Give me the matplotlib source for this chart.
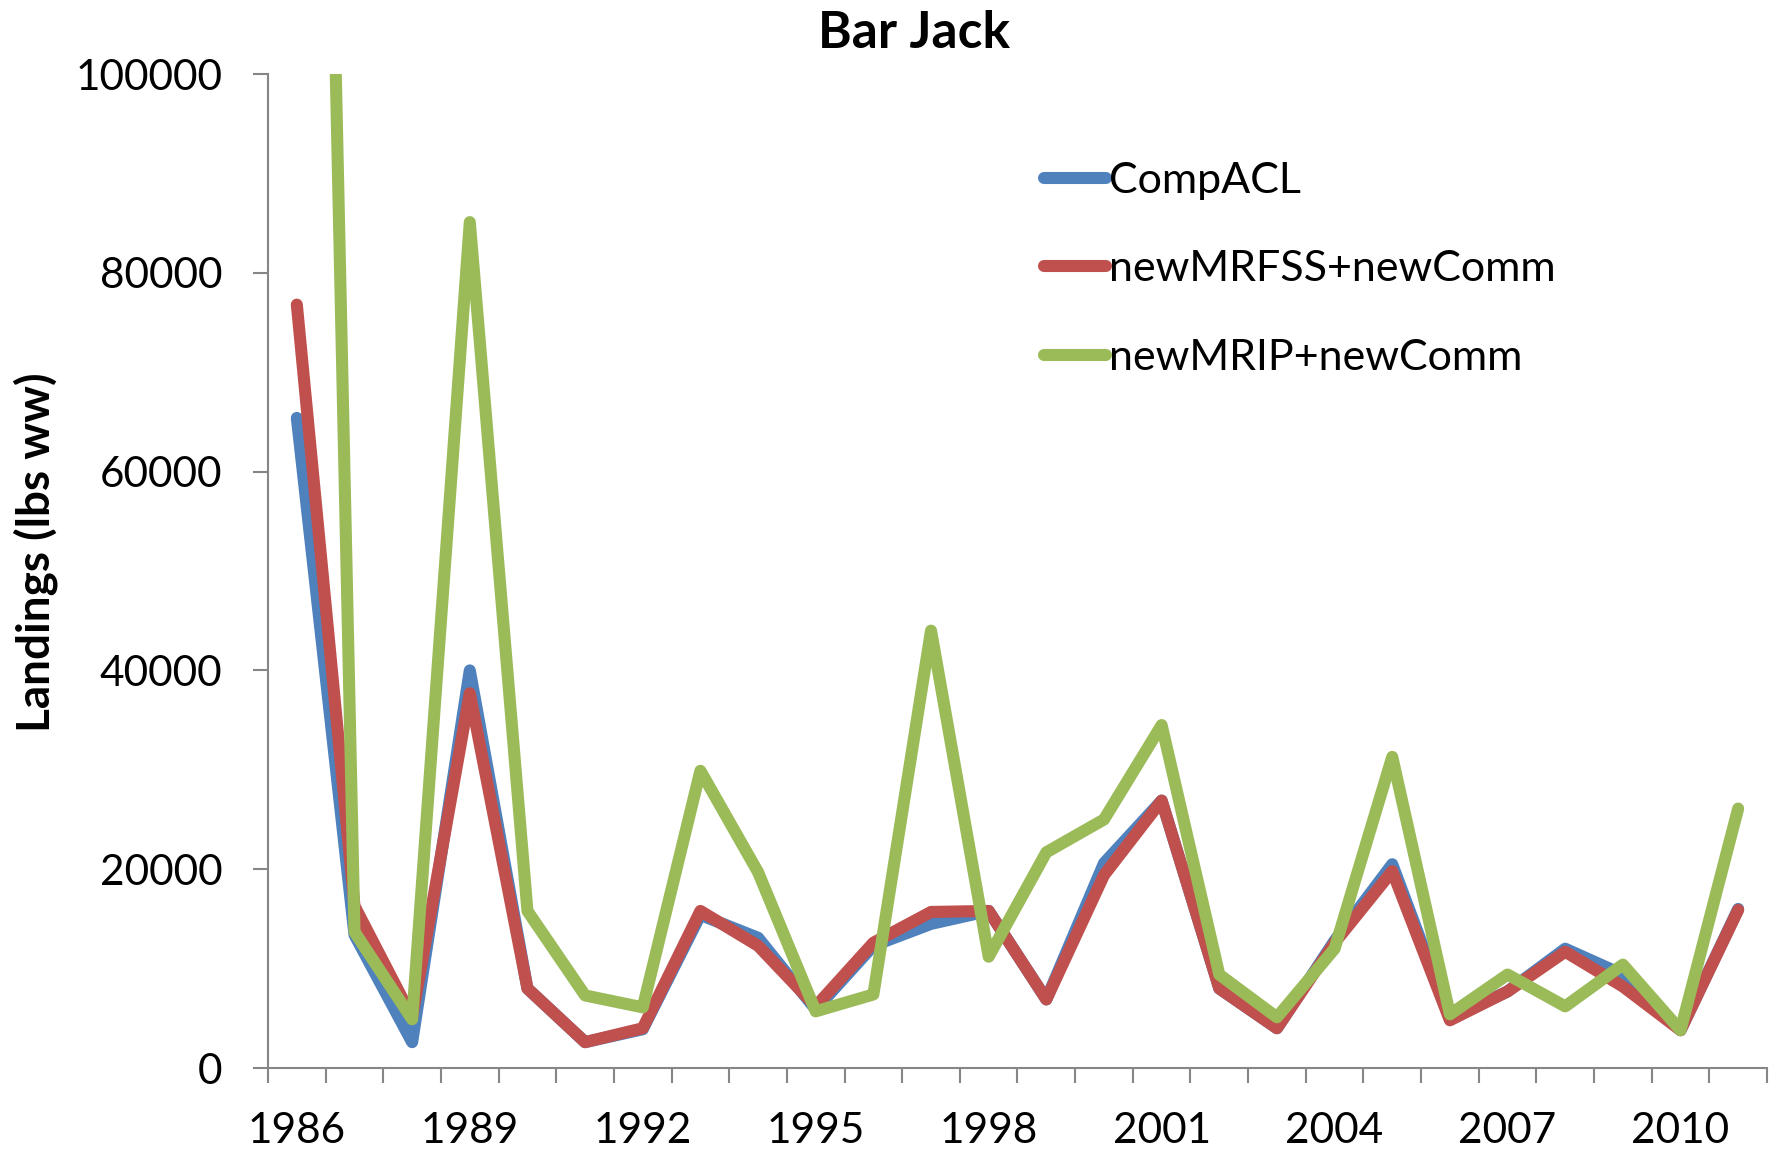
import matplotlib
matplotlib.use("Agg")
import matplotlib.pyplot as plt
from matplotlib.ticker import FixedLocator, NullFormatter, FixedFormatter

years = list(range(1986, 2012))
comp_acl = [65400, 13400, 2600, 40000, 8000, 2600, 3900, 15400, 13100, 5900,
            12300, 14500, 15800, 6900, 20600, 26900, 8000, 4000, 12800, 20500,
            5000, 7700, 12000, 9400, 3800, 16000]
new_mrfss = [76800, 16300, 5100, 37700, 8000, 2600, 4000, 15800, 12300, 6200,
             12600, 15700, 15800, 6900, 19400, 26900, 8000, 4000, 12600, 19800,
             4800, 7700, 11700, 8200, 3800, 15900]
new_mrip = [280000, 13700, 4900, 85100, 15800, 7300, 6100, 29900, 19700, 5700,
            7400, 44000, 11200, 21700, 25000, 34500, 9400, 5100, 12000, 31300,
            5400, 9400, 6200, 10400, 3800, 26100]
series_names = ["CompACL", "newMRFSS+newComm", "newMRIP+newComm"]
series_colors = ["#4F81BD", "#C0504D", "#9BBB59"]
y_ticks = [0, 20000, 40000, 60000, 80000, 100000]
x_label_years = [1986, 1989, 1992, 1995, 1998, 2001, 2004, 2007, 2010]

plt.rcParams['font.family'] = ['Lato', 'DejaVu Sans']

W, H = 1781, 1152
fig = plt.figure(figsize=(W / 100, H / 100), dpi=100)
ax = fig.add_axes([268 / W, 1 - 1068 / H, (1767 - 268) / W, (1068 - 74) / H])

xpos = list(range(len(years)))
for vals, name, col in zip([comp_acl, new_mrfss, new_mrip], series_names, series_colors):
    ax.plot(xpos, vals, color=col, lw=8.7, label=name,
            solid_capstyle='round', solid_joinstyle='round')

ax.set_xlim(-0.5, len(years) - 0.5)
ax.set_ylim(0, 100000)

# category boundaries as major ticks, labels on minor ticks
ax.xaxis.set_major_locator(FixedLocator([i - 0.5 for i in range(len(years) + 1)]))
ax.xaxis.set_major_formatter(NullFormatter())
lab_pos = [years.index(y) for y in x_label_years]
ax.xaxis.set_minor_locator(FixedLocator(lab_pos))
ax.xaxis.set_minor_formatter(FixedFormatter([str(y) for y in x_label_years]))
ax.tick_params(axis='x', which='major', length=11, width=1.5, color='#868686', direction='out')
ax.tick_params(axis='x', which='minor', length=0, labelsize=30.5, pad=32)

ax.set_yticks(y_ticks)
ax.set_yticklabels([str(v) for v in y_ticks])
ax.tick_params(axis='y', length=11, width=1.5, color='#868686', direction='out',
               labelsize=30.5, pad=22)

for s in ['top', 'right']:
    ax.spines[s].set_visible(False)
for s in ['left', 'bottom']:
    ax.spines[s].set_color('#868686')
    ax.spines[s].set_linewidth(1.5)

ax.set_ylabel("Landings (lbs ww)", fontsize=33, fontweight='bold')
ax.yaxis.label.set_va('center')
ax.yaxis.set_label_coords(36 / W, 1 - 552 / H, transform=fig.transFigure)

fig.text(914 / W, 1 - 48 / H, "Bar Jack", fontsize=37, fontweight='bold',
         ha='center', va='baseline')

leg = ax.legend(loc='upper left', bbox_to_anchor=(1044 / W, 1 - 162 / H),
                bbox_transform=fig.transFigure, frameon=False, fontsize=31,
                handlelength=1.45, handletextpad=0.05, labelspacing=1.17,
                borderpad=0, borderaxespad=0)

fig.savefig("out.png", dpi=100)
